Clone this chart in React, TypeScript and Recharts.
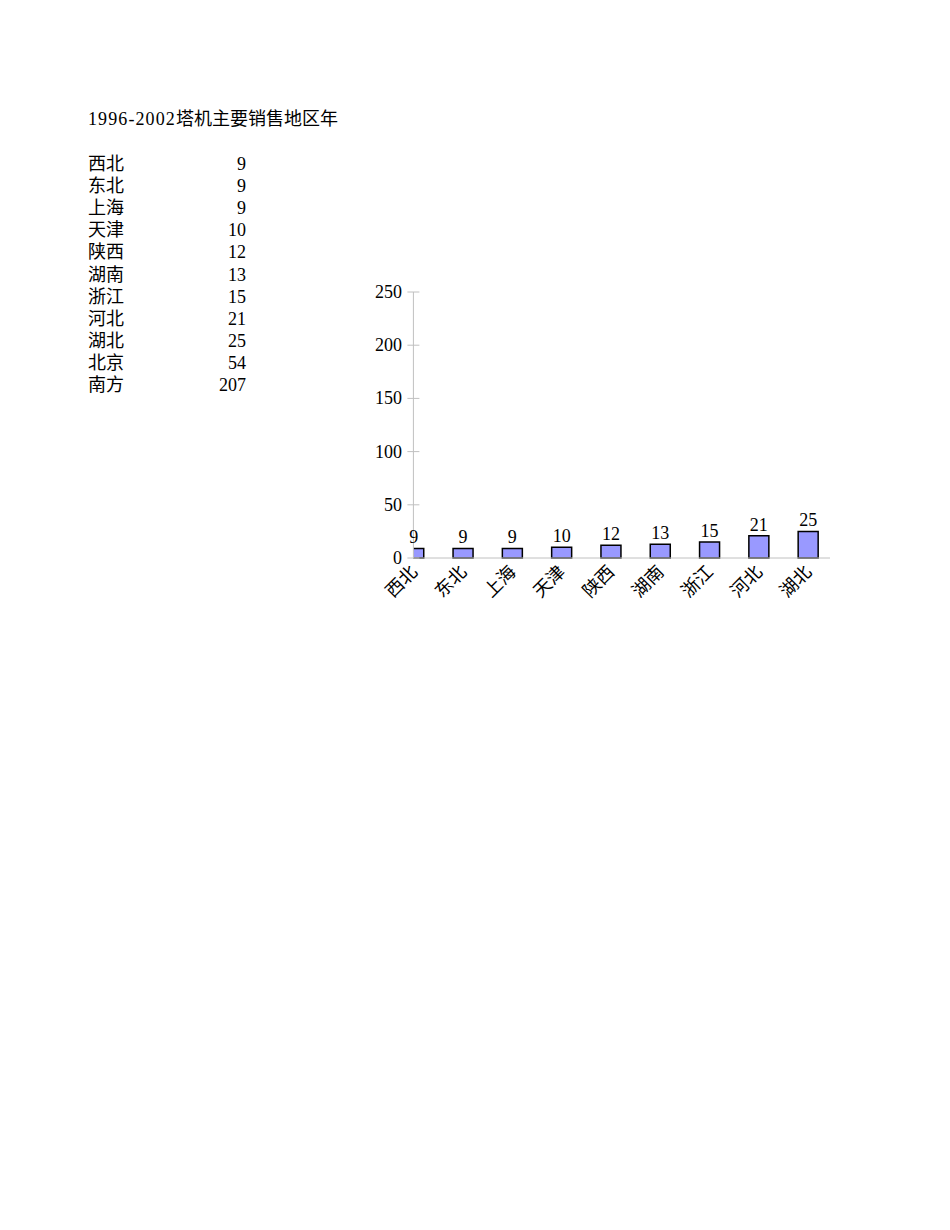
import React from 'react';
import { BarChart, Bar, XAxis, YAxis, LabelList } from 'recharts';

// table on the left (all regions) and the chart (first nine)
const regionNames = ['西北', '东北', '上海', '天津', '陕西', '湖南', '浙江', '河北', '湖北', '北京', '南方'];
const regionValues = [9, 9, 9, 10, 12, 13, 15, 21, 25, 54, 207];
const chartCount = 9;
const yTicks = [0, 50, 100, 150, 200, 250];
const titleYears = '1996-2002';
const titleText = '塔机主要销售地区年';

const FONT = "'Liberation Serif', 'Noto Sans CJK SC', serif";
const AXIS_GRAY = '#c0c0c0';

const chartData = regionNames.slice(0, chartCount).map((name, idx) => ({
  idx,
  name,
  value: regionValues[idx],
}));

const YTick = (props: any) => {
  const { x, y, payload } = props;
  return (
    <g>
      <line x1={x + 2} x2={x + 14} y1={y} y2={y} stroke={AXIS_GRAY} />
      <text x={x - 3.5} y={y} textAnchor="end" dominantBaseline="central" fontSize={18} fontFamily={FONT} fill="#000">
        {payload.value}
      </text>
    </g>
  );
};

const XTick = (props: any) => {
  const { x, y, payload } = props;
  const ax = x + 5;
  const ay = y + 15;
  return (
    <text x={ax} y={ay} textAnchor="end" transform={`rotate(-45 ${ax} ${ay})`} fontSize={18} fontFamily={FONT} fill="#000">
      {chartData[payload.value]?.name}
    </text>
  );
};

export default function App() {
  return (
    <div style={{ position: 'absolute', left: 0, top: 0, width: 950, height: 1230, fontFamily: FONT, color: '#000' }}>
      <div style={{ position: 'absolute', left: 88, top: 108, fontSize: 18, lineHeight: '22px', whiteSpace: 'nowrap' }}>
        <span style={{ letterSpacing: 1.1 }}>{titleYears}</span>
        {titleText}
      </div>
      {regionNames.map((name, i) => (
        <div key={name} style={{ position: 'absolute', left: 88, top: 153 + i * 22.1, width: 158, fontSize: 18, lineHeight: '22px' }}>
          <span>{name}</span>
          <span style={{ position: 'absolute', right: 0 }}>{regionValues[i]}</span>
        </div>
      ))}

      <div style={{ position: 'absolute', left: 0, top: 0 }}>
        <BarChart
          width={950}
          height={650}
          data={chartData}
          margin={{ top: 292, right: 120, bottom: 32, left: 353.4 }}
        >
          <XAxis
            type="number"
            dataKey="idx"
            domain={[0, 8.45]}
            ticks={chartData.map(d => d.idx)}
            interval={0}
            allowDataOverflow
            height={60}
            tickLine={false}
            tickSize={0}
            tickMargin={0}
            axisLine={{ stroke: AXIS_GRAY }}
            tick={<XTick />}
          />
          <YAxis
            type="number"
            domain={[0, 250]}
            ticks={yTicks}
            interval={0}
            width={60}
            tickLine={false}
            tickSize={6}
            tickMargin={2}
            axisLine={{ stroke: AXIS_GRAY }}
            tick={<YTick />}
          />
          <Bar dataKey="value" barSize={20} fill="#9999ff" stroke="#000" strokeWidth={1.5} isAnimationActive={false}>
            <LabelList dataKey="value" position="top" offset={5} fill="#000" fontSize={18} fontFamily={FONT} />
          </Bar>
        </BarChart>
      </div>
    </div>
  );
}
